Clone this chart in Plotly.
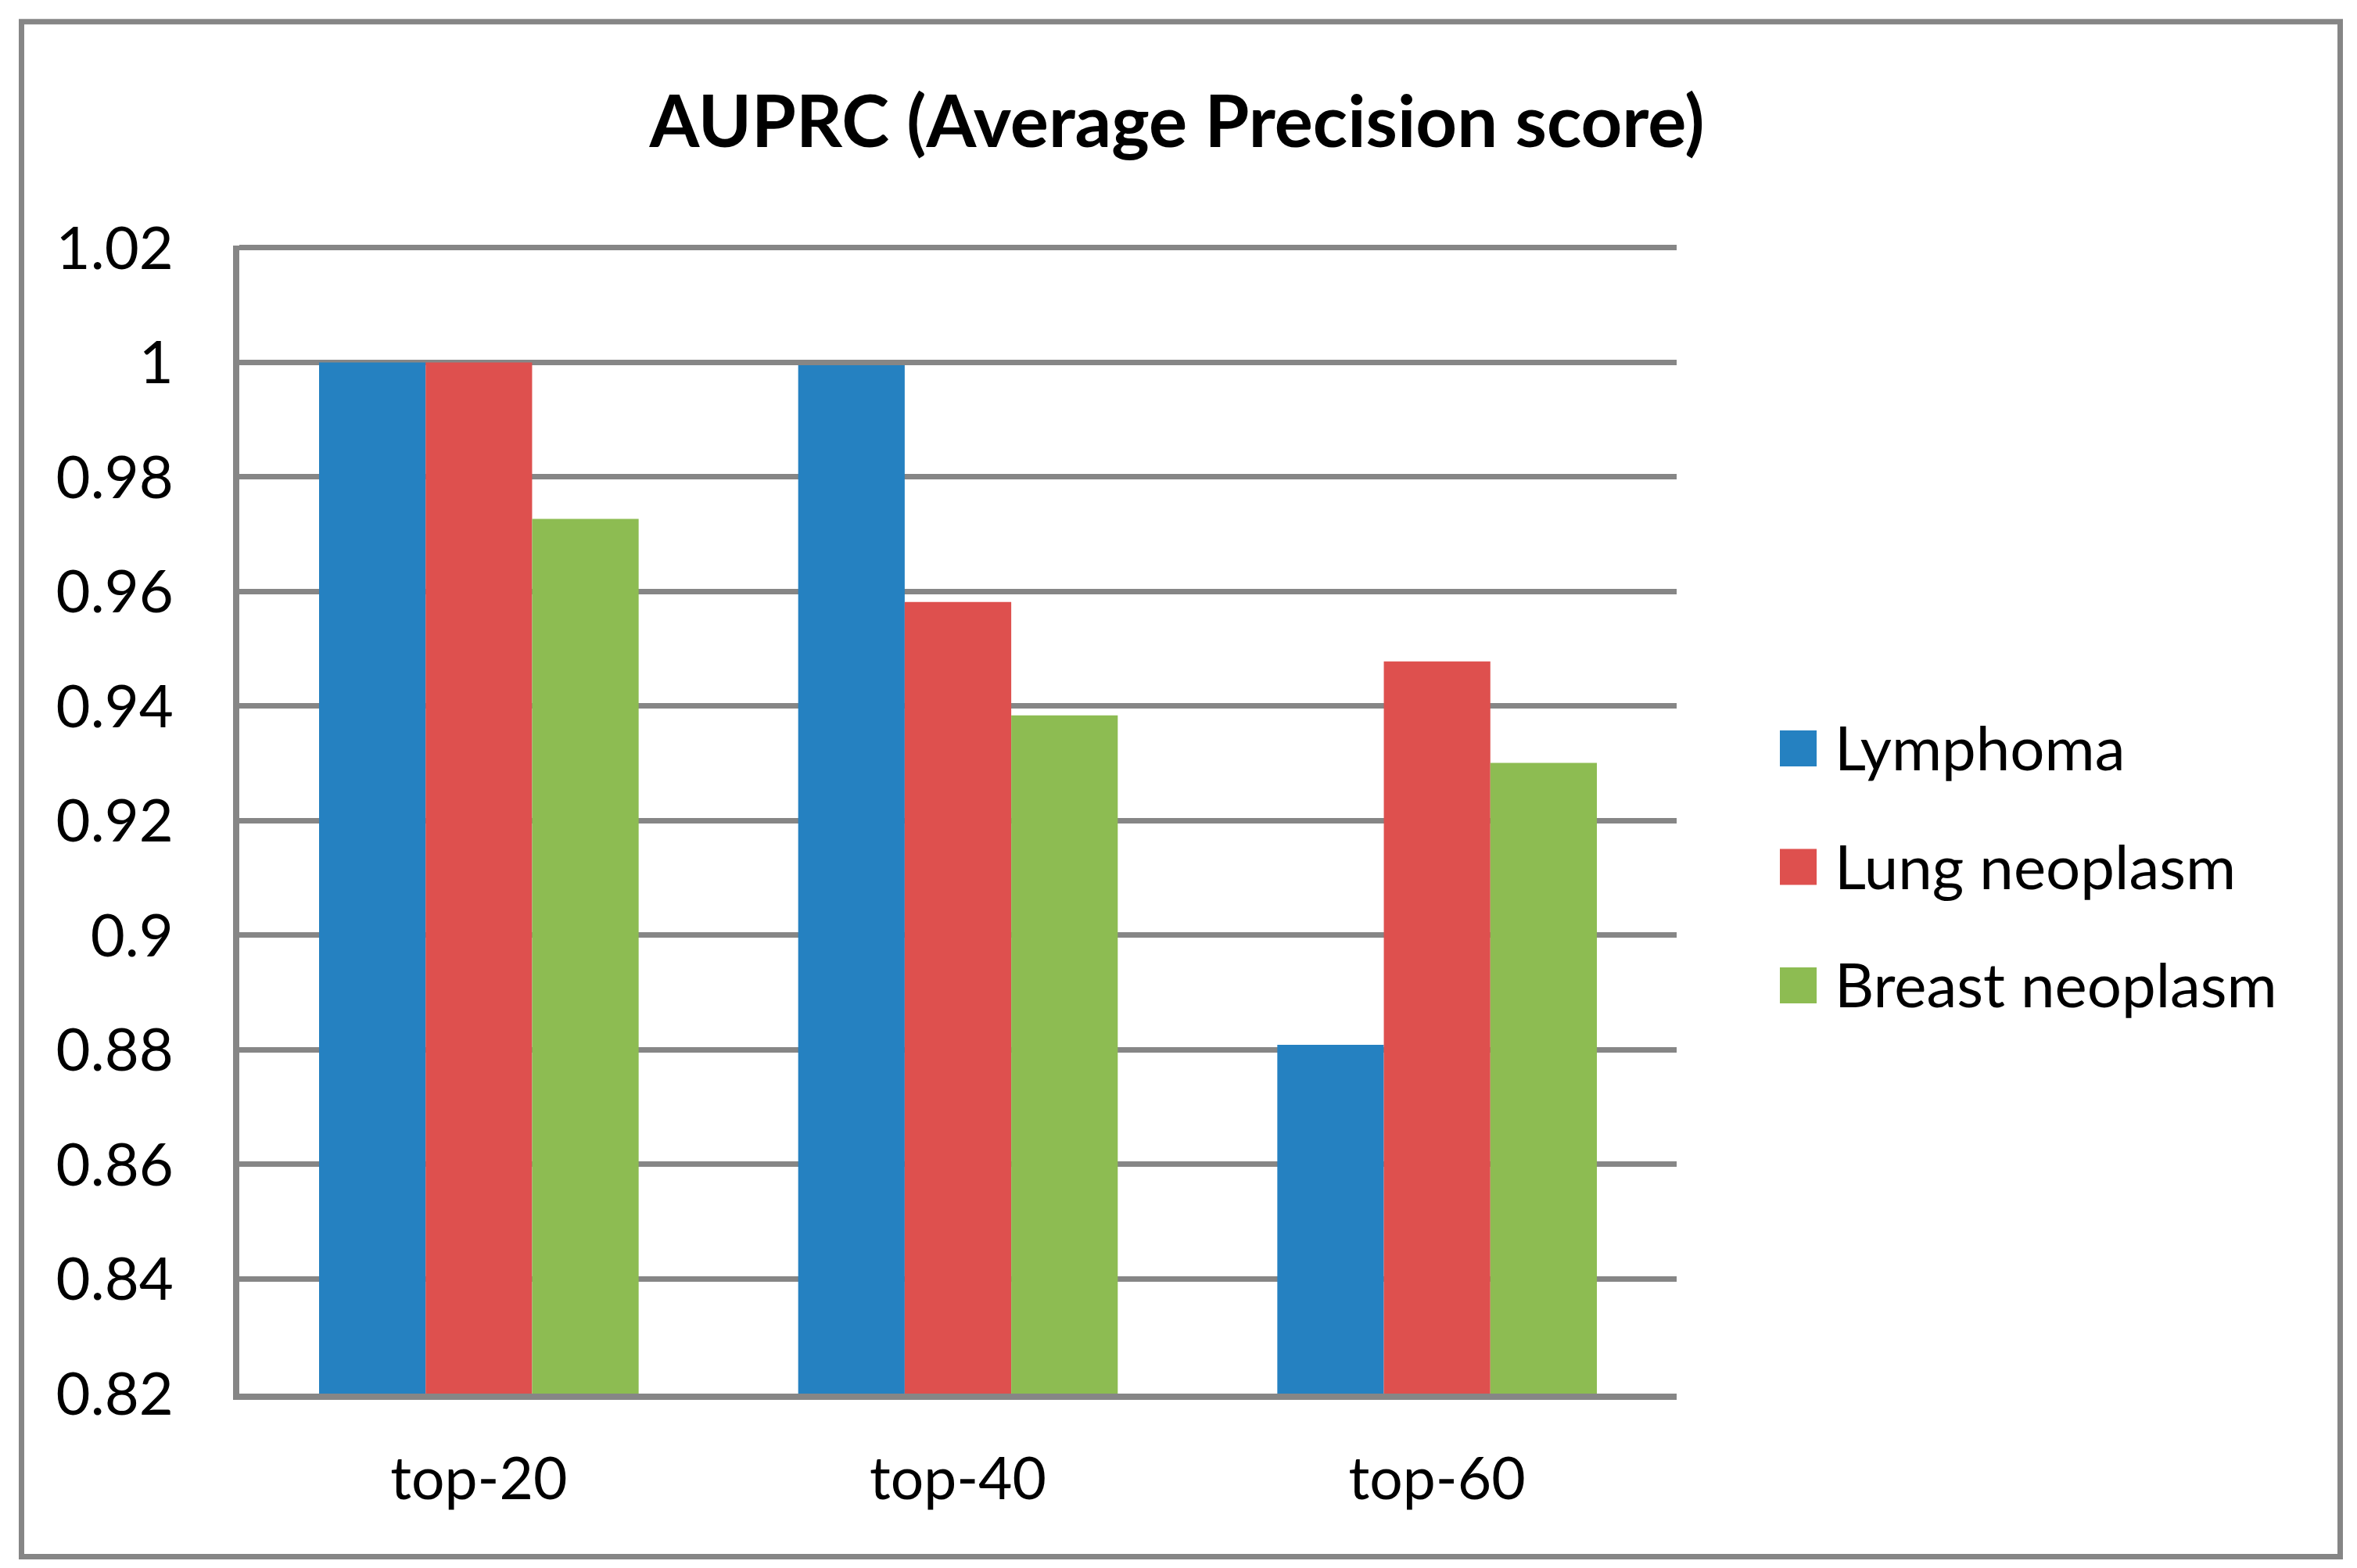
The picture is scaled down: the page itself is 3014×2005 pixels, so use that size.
import plotly.graph_objects as go

categories = ["top-20", "top-40", "top-60"]
series_names = ["Lymphoma", "Lung neoplasm", "Breast neoplasm"]
lymphoma = [1.0, 0.9995, 0.8809]
lung_neoplasm = [1.0, 0.9582, 0.9478]
breast_neoplasm = [0.9727, 0.9384, 0.9301]
series_colors = ["#2581C1", "#DE504E", "#8DBC52"]
y_tick_values = [0.82, 0.84, 0.86, 0.88, 0.90, 0.92, 0.94, 0.96, 0.98, 1.00, 1.02]
y_tick_labels = ["0.82", "0.84", "0.86", "0.88", "0.9", "0.92", "0.94", "0.96", "0.98", "1", "1.02"]
title_text = "AUPRC (Average Precision score)"

W, H = 3014, 2005
Y0, Y1 = 0.82, 1.0204          # small headroom so the 1.02 gridline is drawn
L, R = 298.0, 2136.0
B = 1774.0
TOP_102 = 308.8
T = B - (B - TOP_102) * (Y1 - Y0) / 0.20
PW, PH = R - L, B - T


def px_x(px):
    return (px - L) / PW


def px_y(py):
    return (B - py) / PH


GRID = "#868686"
FONT = "Lato"

fig = go.Figure()
for name, vals, col in zip(series_names, [lymphoma, lung_neoplasm, breast_neoplasm], series_colors):
    fig.add_trace(go.Bar(x=categories, y=vals, name=name, marker=dict(color=col, line=dict(width=0)),
                         showlegend=False))

# outer chart border
fig.add_shape(type="rect", xref="paper", yref="paper",
              x0=px_x(19.5), x1=px_x(2984.5), y0=px_y(1982.5), y1=px_y(19.5),
              line=dict(color=GRID, width=7), fillcolor="rgba(0,0,0,0)", layer="below")

# manual legend (large square keys like the reference)
leg_centers = [949, 1100.5, 1252]
for name, col, cy in zip(series_names, series_colors, leg_centers):
    fig.add_shape(type="rect", xref="paper", yref="paper",
                  x0=px_x(2268), x1=px_x(2315), y0=px_y(cy + 23), y1=px_y(cy - 23),
                  line=dict(width=0), fillcolor=col)
    fig.add_annotation(text=name, xref="paper", yref="paper", x=px_x(2336), y=px_y(cy - 2),
                       xanchor="left", yanchor="middle", showarrow=False,
                       font=dict(family=FONT, size=78, color="black"))

fig.update_layout(
    width=W, height=H,
    margin=dict(l=L, r=W - R, t=T, b=H - B, pad=0),
    paper_bgcolor="white", plot_bgcolor="white",
    barmode="group", bargap=0.333, bargroupgap=0,
    title=dict(text="<b>" + title_text + "</b>", x=1497 / W, xanchor="center",
               y=1 - 148 / H, yanchor="middle", yref="container",
               font=dict(family=FONT, size=92, color="black")),
    font=dict(family=FONT, color="black"),
)

fig.update_yaxes(range=[Y0, Y1], tickvals=y_tick_values, ticktext=y_tick_labels,
                 showgrid=True, gridcolor=GRID, gridwidth=7, zeroline=False,
                 showline=True, linecolor=GRID, linewidth=8, ticks="",
                 ticklabelstandoff=61, tickfont=dict(family=FONT, size=76, color="black"))
fig.update_xaxes(showgrid=False, showline=True, linecolor=GRID, linewidth=8, ticks="",
                 ticklabelstandoff=37, tickfont=dict(family=FONT, size=75, color="black"))

fig.write_html("out.html")
